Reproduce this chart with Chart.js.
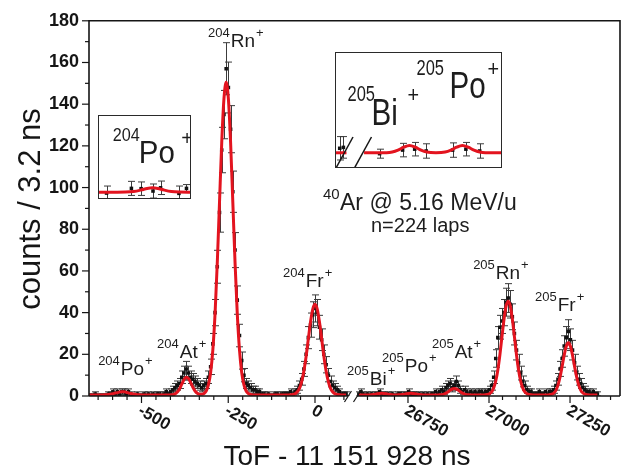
<!DOCTYPE html>
<html>
<head>
<meta charset="utf-8">
<script src="https://cdn.jsdelivr.net/npm/chart.js@4.4.1/dist/chart.umd.min.js"></script>
<style>
  html, body { margin: 0; padding: 0; background: #fff; overflow: hidden; }
  #wrap { position: relative; width: 627px; height: 471px; }
  #main { position: absolute; left: 0; top: 0; }
  .inset { position: absolute; border: 1.5px solid #2a2a2a; background: #fff; }
  .inset canvas { display: block; }
</style>
</head>
<body>
<div id="wrap">
  <canvas id="main" width="627" height="471"></canvas>
  <div class="inset" style="left:98px; top:115px; width:91px; height:82px;">
    <canvas id="inset1" width="91" height="82"></canvas>
  </div>
  <div class="inset" style="left:335px; top:52px; width:165px; height:114px;">
    <canvas id="inset2" width="165" height="114"></canvas>
  </div>
</div>
<script>
// bins of 6.4 ns, left part starts at -652.8 ns, right part at 26598.4 ns
const LEFT_START = -652.8;
const RIGHT_START = 26598.4;
const BIN = 6.4;

const leftCounts = [
  0, 0, 0, 1, 0, 0, 0, 0, 0, 1,
  1, 2, 1, 2, 1, 2, 2, 1, 2, 1,
  0, 0, 1, 0, 0, 1, 0, 1, 0, 1,
  0, 1, 1, 0, 1, 2, 1, 2, 3, 4,
  5, 6, 9, 11, 13, 11, 9, 8, 7, 6,
  5, 4, 5, 6, 9, 14, 25, 40, 62, 88,
  118, 135, 157, 148, 128, 98, 70, 46, 29, 17,
  10, 6, 5, 4, 3, 3, 2, 2, 1, 1,
  0, 1, 0, 0, 1, 1, 0, 1, 1, 1,
  1, 2, 1, 2, 3, 5, 8, 13, 20, 28,
  34, 39, 42, 40, 33, 27, 20, 15, 10, 7,
  5, 4, 3, 2, 1, 1, 1
];
const leftErr = [
  1, 1, 1, 1, 1, 1, 1, 1, 1, 1,
  1, 1.4, 1, 1.4, 1, 1.4, 1.4, 1, 1.4, 1,
  1, 1, 1, 1, 1, 1, 1, 1, 1, 1,
  1, 1, 1, 1, 1, 1.4, 1, 1.4, 1.7, 2,
  2.2, 2.4, 3, 3.3, 3.6, 3.3, 3, 2.8, 2.6, 2.4,
  2.2, 2, 2.2, 2.4, 3, 3.7, 5, 6.3, 7.9, 9.4,
  10.9, 11.6, 12.5, 12.2, 11.3, 9.9, 8.4, 6.8, 5.4, 4.1,
  3.2, 2.4, 2.2, 2, 1.7, 1.7, 1.4, 1.4, 1, 1,
  1, 1, 1, 1, 1, 1, 1, 1, 1, 1,
  1, 1.4, 1, 1.4, 1.7, 2.2, 2.8, 3.6, 4.5, 5.3,
  5.8, 6.2, 6.5, 6.3, 5.7, 5.2, 4.5, 3.9, 3.2, 2.6,
  2.2, 2, 1.7, 1.4, 1, 1, 1
];
const leftFit = [
  0.5, 0.5, 0.5, 0.5, 0.5, 0.5, 0.5, 0.55, 0.6, 0.7,
  0.9, 1.1, 1.4, 1.6, 1.9, 2.0, 2.0, 1.8, 1.5, 1.2,
  1.0, 0.8, 0.65, 0.57, 0.53, 0.5, 0.5, 0.5, 0.5, 0.5,
  0.5, 0.5, 0.5, 0.5, 0.5, 0.5, 0.5, 0.54, 0.65, 1.0,
  1.9, 3.4, 5.7, 7.8, 9.0, 8.4, 6.5, 4.2, 2.4, 1.3,
  0.8, 0.8, 1.2, 2.4, 5.3, 11.2, 22.1, 39.5, 63.9, 92.9,
  121.5, 142.5, 150.5, 142.5, 121.5, 92.9, 63.9, 39.5, 22.1, 11.2,
  5.3, 2.4, 1.2, 0.7, 0.5, 0.5, 0.5, 0.5, 0.5, 0.5,
  0.5, 0.5, 0.5, 0.5, 0.5, 0.5, 0.5, 0.5, 0.5, 0.5,
  0.52, 0.57, 0.7, 1.1, 1.9, 3.7, 6.9, 12.0, 19.0, 27.4,
  35.6, 41.7, 44.0, 41.7, 35.6, 27.4, 19.0, 12.0, 6.9, 3.7,
  1.9, 1.1, 0.7, 0.57, 0.52, 0.5, 0.5
];

const rightCounts = [
  1, 2, 1, 0, 1, 0, 1, 0, 1, 1,
  2, 1, 1, 0, 1, 0, 1, 0, 0, 1,
  1, 0, 1, 1, 2, 1, 1, 1, 0, 1,
  0, 1, 0, 1, 0, 1, 1, 2, 1, 2,
  3, 2, 4, 5, 6, 4, 5, 7, 5, 3,
  2, 3, 2, 1, 2, 1, 2, 1, 2, 2,
  1, 2, 2, 3, 5, 9, 18, 28, 33, 36,
  40, 45, 47, 44, 38, 30, 22, 16, 11, 7,
  5, 3, 2, 2, 1, 1, 1, 2, 1, 1,
  2, 1, 2, 2, 3, 5, 8, 13, 18, 24,
  28, 31, 27, 22, 16, 11, 8, 6, 4, 3,
  2, 2, 1, 2, 1, 1
];
const rightErr = [
  1, 1.4, 1, 1, 1, 1, 1, 1, 1, 1,
  1.4, 1, 1, 1, 1, 1, 1, 1, 1, 1,
  1, 1, 1, 1, 1.4, 1, 1, 1, 1, 1,
  1, 1, 1, 1, 1, 1, 1, 1.4, 1, 1.4,
  1.7, 1.4, 2, 2.2, 2.4, 2, 2.2, 2.6, 2.2, 1.7,
  1.4, 1.7, 1.4, 1, 1.4, 1, 1.4, 1, 1.4, 1.4,
  1, 1.4, 1.4, 1.7, 2.2, 3, 4.2, 5.3, 5.7, 6,
  6.3, 6.7, 6.9, 6.6, 6.2, 5.5, 4.7, 4, 3.3, 2.6,
  2.2, 1.7, 1.4, 1.4, 1, 1, 1, 1.4, 1, 1,
  1.4, 1, 1.4, 1.4, 1.7, 2.2, 2.8, 3.6, 4.2, 4.9,
  5.3, 5.6, 5.2, 4.7, 4, 3.3, 2.8, 2.4, 2, 1.7,
  1.4, 1.4, 1, 1.4, 1, 1
];
const rightFit = [
  0.5, 0.5, 0.5, 0.5, 0.52, 0.54, 0.61, 0.72, 0.89, 1.08,
  1.24, 1.3, 1.24, 1.08, 0.89, 0.72, 0.61, 0.54, 0.53, 0.55,
  0.61, 0.72, 0.89, 1.08, 1.24, 1.3, 1.24, 1.08, 0.89, 0.72,
  0.61, 0.54, 0.52, 0.5, 0.5, 0.5, 0.5, 0.5, 0.52, 0.56,
  0.67, 0.92, 1.36, 2.01, 2.75, 3.36, 3.6, 3.36, 2.75, 2.01,
  1.36, 0.92, 0.67, 0.56, 0.52, 0.5, 0.5, 0.5, 0.5, 0.5,
  0.52, 0.58, 0.73, 1.13, 2.0, 3.9, 7.2, 12.5, 19.8, 28.5,
  36.9, 43.2, 45.5, 43.2, 36.9, 28.5, 19.8, 12.5, 7.2, 3.9,
  2.0, 1.13, 0.73, 0.58, 0.52, 0.5, 0.5, 0.5, 0.5, 0.5,
  0.5, 0.53, 0.61, 0.85, 1.44, 2.7, 5.2, 9.1, 14.2, 19.6,
  23.9, 25.5, 23.9, 19.6, 14.2, 9.1, 5.2, 2.7, 1.44, 0.85,
  0.61, 0.53, 0.5, 0.5, 0.5, 0.5
];

// inset 1: 204Po region
const in1X = [-640, -594, -576, -554, -540, -506, -492];
const in1Y = [0.2, 1.8, 1.7, 0.9, 2.0, 0.1, 1.8];
const in1Err = [2.4, 2.4, 2.3, 2.4, 2.3, 2.5, 1.3];
const in1FitX = [-654, -620, -605, -590, -575, -565, -555, -545, -535, -520, -505, -490, -485];
const in1FitY = [0.5, 0.5, 0.53, 0.73, 1.31, 1.79, 2.0, 1.79, 1.31, 0.73, 0.53, 0.5, 0.5];

// inset 2: 205Bi / 205Po region (with the end of the left part before the break)
const in2TailX = [79, 85];
const in2TailY = [1.0, 1.1];
const in2TailErr = [1.3, 1.2];
const in2TailFitX = [73, 90];
const in2TailFitY = [0.5, 0.5];
const in2X = [26617, 26657, 26678, 26698, 26744, 26767, 26791];
const in2Y = [0.4, 0.8, 0.9, 0.7, 0.8, 0.9, 0.7];
const in2Err = [0.5, 0.75, 0.75, 0.8, 0.8, 0.75, 0.8];
const in2FitX = [26590, 26629, 26639, 26649, 26659, 26669, 26679, 26689, 26699, 26715,
                 26731, 26741, 26751, 26761, 26771, 26781, 26791, 26801, 26840];
const in2FitY = [0.5, 0.51, 0.58, 0.79, 1.12, 1.3, 1.12, 0.79, 0.58, 0.51,
                 0.58, 0.79, 1.12, 1.3, 1.12, 0.79, 0.58, 0.51, 0.5];

const leftMajor = [-500, -250, 0];
const rightMajor = [26750, 27000, 27250];

const ionLabels = [
  { mass: '204', el: 'Po', x: -625, y: 9.9 },
  { mass: '204', el: 'At', x: -455, y: 18 },
  { mass: '204', el: 'Rn', x: -308, y: 167.2 },
  { mass: '204', el: 'Fr', x: -92, y: 52.4 },
  { mass: '205', el: 'Bi', x: 26562, y: 5.2 },
  { mass: '205', el: 'Po', x: 26670, y: 11.3 },
  { mass: '205', el: 'At', x: 26824, y: 18.4 },
  { mass: '205', el: 'Rn', x: 26951, y: 56.2 },
  { mass: '205', el: 'Fr', x: 27142, y: 40.6 }
];

// broken axis: the right part is shifted next to the left part
const RIGHT_ORIGIN_U = 268;
const RIGHT_SCALE = 0.934;
function toU(ns) {
  return ns < 10000 ? ns : RIGHT_ORIGIN_U + (ns - 26750) * RIGHT_SCALE;
}
const U_MIN = -651.3, U_MAX = 879;
const BREAK_U = [95, 121];

const FONT = '"Liberation Sans", Arial, Helvetica, sans-serif';
const INK = '#151515';
const RED = '#e3141f';

function binPoints(start, ys) {
  return ys.map((v, i) => ({ x: toU(start + i * BIN), y: v }));
}
function xyPoints(xs, ys) {
  return xs.map((x, i) => ({ x: toU(x), y: ys[i] }));
}

function errorBars(sets, cap) {
  return {
    id: 'errorBars',
    beforeDatasetsDraw(chart) {
      const { ctx, chartArea: a, scales } = chart;
      ctx.save();
      ctx.beginPath();
      ctx.rect(a.left, a.top, a.right - a.left, a.bottom - a.top);
      ctx.clip();
      ctx.strokeStyle = '#3c3c3c';
      ctx.lineWidth = 1;
      for (const s of sets) {
        s.x.forEach((xv, i) => {
          const px = Math.round(scales.x.getPixelForValue(xv)) + 0.5;
          const t = scales.y.getPixelForValue(s.y[i] + s.e[i]);
          const b = scales.y.getPixelForValue(s.y[i] - s.e[i]);
          ctx.beginPath();
          ctx.moveTo(px, t); ctx.lineTo(px, b);
          ctx.moveTo(px - cap, t); ctx.lineTo(px + cap, t);
          ctx.moveTo(px - cap, b); ctx.lineTo(px + cap, b);
          ctx.stroke();
        });
      }
      ctx.restore();
    }
  };
}

function dataSet(points) {
  return {
    data: points, showLine: false, pointStyle: 'rect', pointRadius: 2.5,
    pointBackgroundColor: '#111', pointBorderWidth: 0, order: 1
  };
}
function fitSet(points) {
  return {
    data: points, showLine: true, borderColor: RED, borderWidth: 3,
    pointRadius: 0, pointHoverRadius: 0, cubicInterpolationMode: 'monotone', order: 0
  };
}

function drawIon(ctx, px, py, mass, el) {
  ctx.textAlign = 'left';
  ctx.textBaseline = 'alphabetic';
  ctx.font = '13px ' + FONT;
  ctx.fillText(mass, px, py - 10);
  const w1 = ctx.measureText(mass).width;
  ctx.font = '19px ' + FONT;
  ctx.fillText(el, px + w1 + 1, py);
  const w2 = ctx.measureText(el).width;
  ctx.font = '13px ' + FONT;
  ctx.fillText('+', px + w1 + w2 + 2, py - 10);
}

const leftBins = leftCounts.map((_, i) => toU(LEFT_START + i * BIN));
const rightBins = rightCounts.map((_, i) => toU(RIGHT_START + i * BIN));

const decor = {
  id: 'decor',
  afterDraw(chart) {
    const { ctx, chartArea: a, scales: { x, y } } = chart;
    ctx.save();
    ctx.strokeStyle = INK;
    ctx.fillStyle = INK;

    // frame, bottom axis broken
    const b1 = x.getPixelForValue(BREAK_U[0]);
    const b2 = x.getPixelForValue(BREAK_U[1]);
    ctx.lineWidth = 1.6;
    ctx.beginPath();
    ctx.moveTo(a.left, a.bottom); ctx.lineTo(a.left, a.top);
    ctx.lineTo(a.right, a.top); ctx.lineTo(a.right, a.bottom);
    ctx.moveTo(a.left, a.bottom); ctx.lineTo(b1, a.bottom);
    ctx.moveTo(b2, a.bottom); ctx.lineTo(a.right, a.bottom);
    ctx.stroke();
    ctx.lineWidth = 1.2;
    for (const b of [b1, b2]) {
      ctx.beginPath();
      ctx.moveTo(b - 3.5, a.bottom + 6);
      ctx.lineTo(b + 3.5, a.bottom - 5);
      ctx.stroke();
    }

    // y ticks
    ctx.lineWidth = 1.2;
    for (let v = 0; v <= 180; v += 10) {
      const py = y.getPixelForValue(v);
      const len = v % 20 === 0 ? 7 : 4;
      ctx.beginPath(); ctx.moveTo(a.left - len, py); ctx.lineTo(a.left, py); ctx.stroke();
    }

    // x ticks: majors every 250 ns, minors every 250/6 ns
    const minor = 250 / 6;
    const xt = [];
    for (let k = -16; k <= 3; k++) xt.push(k * minor);
    for (let k = -5; k <= 16; k++) xt.push(26750 + k * minor);
    for (const v of xt) {
      const u = toU(v);
      if (u < U_MIN || u > U_MAX) continue;
      if (v < 10000 && u > 90) continue;
      if (v > 10000 && u < 126) continue;
      const r = Math.abs(v % 250);
      const isMajor = r < 0.01 || Math.abs(r - 250) < 0.01;
      const px = x.getPixelForValue(u);
      ctx.beginPath(); ctx.moveTo(px, a.bottom); ctx.lineTo(px, a.bottom + (isMajor ? 7 : 4)); ctx.stroke();
    }

    // rotated x tick labels
    ctx.font = 'bold 17px ' + FONT;
    ctx.textAlign = 'left';
    ctx.textBaseline = 'top';
    for (const v of leftMajor.concat(rightMajor)) {
      const px = x.getPixelForValue(toU(v));
      ctx.save();
      ctx.translate(px + 2, a.bottom + 6);
      ctx.rotate(Math.PI / 6);
      ctx.fillText(String(v), 0, 0);
      ctx.restore();
    }

    // axis titles
    ctx.textBaseline = 'alphabetic';
    ctx.textAlign = 'center';
    ctx.font = '28px ' + FONT;
    ctx.fillText('ToF - 11 151 928 ns', 347, 465);
    ctx.save();
    ctx.translate(40, 209);
    ctx.rotate(-Math.PI / 2);
    ctx.font = '31px ' + FONT;
    ctx.fillText('counts / 3.2 ns', 0, 0);
    ctx.restore();

    // peak labels
    ctx.fillStyle = '#1d1d1d';
    for (const l of ionLabels) {
      drawIon(ctx, x.getPixelForValue(toU(l.x)), y.getPixelForValue(l.y), l.mass, l.el);
    }

    // run information
    ctx.textAlign = 'left';
    ctx.font = '15px ' + FONT;
    ctx.fillText('40', 323, 199);
    ctx.font = '23px ' + FONT;
    ctx.fillText('Ar @ 5.16 MeV/u', 340, 210);
    ctx.font = '20px ' + FONT;
    ctx.fillText('n=224 laps', 371, 232);
    ctx.restore();
  }
};

new Chart(document.getElementById('main'), {
  type: 'scatter',
  data: {
    datasets: [
      fitSet(binPoints(LEFT_START, leftFit)),
      fitSet(binPoints(RIGHT_START, rightFit)),
      dataSet(binPoints(LEFT_START, leftCounts)),
      dataSet(binPoints(RIGHT_START, rightCounts))
    ]
  },
  options: {
    responsive: false,
    animation: false,
    events: [],
    layout: { padding: { top: 15, right: 7, left: 0, bottom: 0 } },
    plugins: { legend: { display: false }, tooltip: { enabled: false } },
    scales: {
      x: {
        type: 'linear', min: U_MIN, max: U_MAX,
        grid: { display: false, drawTicks: false },
        border: { display: false },
        ticks: { display: false },
        afterFit(s) { s.height = 75; }
      },
      y: {
        min: 0, max: 180,
        grid: { display: false, drawTicks: false },
        border: { display: false },
        ticks: { stepSize: 20, padding: 10, color: INK, font: { family: FONT, size: 18, weight: 'bold' } },
        afterFit(s) { s.width = 89; }
      }
    }
  },
  plugins: [
    errorBars([
      { x: leftBins, y: leftCounts, e: leftErr },
      { x: rightBins, y: rightCounts, e: rightErr }
    ], 3.5),
    decor
  ]
});

function insetOptions(xmin, xmax, ymin, ymax) {
  return {
    responsive: false,
    animation: false,
    events: [],
    layout: { padding: 0, autoPadding: false },
    plugins: { legend: { display: false }, tooltip: { enabled: false } },
    scales: {
      x: { type: 'linear', display: false, min: xmin, max: xmax },
      y: { type: 'linear', display: false, min: ymin, max: ymax }
    }
  };
}

function scaledText(ctx, text, x, y, size, sx) {
  ctx.save();
  ctx.translate(x, y);
  ctx.scale(sx, 1);
  ctx.font = size + 'px ' + FONT;
  ctx.fillText(text, 0, 0);
  ctx.restore();
}

new Chart(document.getElementById('inset1'), {
  type: 'scatter',
  data: {
    datasets: [
      fitSet(xyPoints(in1FitX, in1FitY)),
      dataSet(xyPoints(in1X, in1Y))
    ]
  },
  options: insetOptions(-654, -485.5, -1.48, 26.5),
  plugins: [
    errorBars([{ x: in1X.map(toU), y: in1Y, e: in1Err }], 3.5),
    {
      id: 'inset1Text',
      afterDraw(chart) {
        const ctx = chart.ctx;
        ctx.save();
        ctx.fillStyle = '#1d1d1d';
        ctx.textAlign = 'left';
        ctx.textBaseline = 'alphabetic';
        scaledText(ctx, '204', 13.8, 25.2, 18, 0.9);
        scaledText(ctx, 'Po', 39.8, 46.8, 31, 0.95);
        scaledText(ctx, '+', 82.2, 28.5, 20, 1);
        ctx.restore();
      }
    }
  ]
});

new Chart(document.getElementById('inset2'), {
  type: 'scatter',
  data: {
    datasets: [
      fitSet(xyPoints(in2TailFitX, in2TailFitY)),
      fitSet(xyPoints(in2FitX, in2FitY)),
      dataSet(xyPoints(in2TailX, in2TailY)),
      dataSet(xyPoints(in2X, in2Y))
    ]
  },
  options: insetOptions(73.0, 340.9, -1.08, 11.59),
  plugins: [
    errorBars([
      { x: in2TailX.map(toU), y: in2TailY, e: in2TailErr },
      { x: in2X.map(toU), y: in2Y, e: in2Err }
    ], 3.5),
    {
      id: 'inset2Text',
      afterDraw(chart) {
        const { ctx, chartArea: a, scales: { x } } = chart;
        ctx.save();
        ctx.strokeStyle = INK;
        ctx.lineWidth = 1.5;
        for (const u of [86.8, 116.8]) {
          const px = x.getPixelForValue(u);
          ctx.beginPath();
          ctx.moveTo(px - 8.5, a.bottom + 1);
          ctx.lineTo(px + 8.5, a.bottom - 30);
          ctx.stroke();
        }
        ctx.fillStyle = '#1d1d1d';
        ctx.textAlign = 'left';
        ctx.textBaseline = 'alphabetic';
        scaledText(ctx, '205', 11.5, 47.5, 22, 0.75);
        scaledText(ctx, 'Bi', 35.5, 71.5, 37, 0.8);
        scaledText(ctx, '+', 71.5, 48.5, 22, 0.9);
        scaledText(ctx, '205', 80.5, 21.5, 22, 0.75);
        scaledText(ctx, 'Po', 113.5, 44.5, 37, 0.8);
        scaledText(ctx, '+', 151.5, 22.5, 22, 0.9);
        ctx.restore();
      }
    }
  ]
});
</script>
</body>
</html>
